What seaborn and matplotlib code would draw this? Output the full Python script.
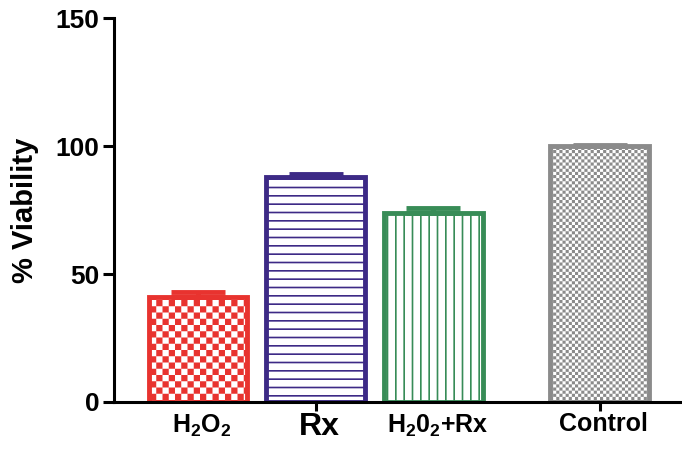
import warnings
import numpy as np
import pandas as pd
import matplotlib
matplotlib.use('Agg')
import matplotlib.pyplot as plt
import matplotlib.hatch as mhatch
import matplotlib.transforms as mtrans
from matplotlib.path import Path
import seaborn as sns

# data
groups = ['H2O2', 'Rx', 'H2O2+Rx', 'Control']
tick_labels = ['H$_2$O$_2$', 'Rx', 'H$_2$0$_2$+Rx', 'Control']
x_pos = [0.0, 1.0, 2.0, 3.41]
viability = [41.1, 87.9, 74.1, 100.0]
sem = [1.8, 1.2, 1.7, 0.4]
edge_colors = ['#e8332f', '#3d2a86', '#388c57', '#8b8b8b']
hatches = ['cc', '--', '||', 'cccc']


# checkerboard hatch ('c' = 8 cells per inch, repeat for finer squares)
class CheckerHatch(mhatch.HatchPatternBase):

    def __init__(self, hatch, density):
        self.n = hatch.count('c') * 8
        self.num_vertices = self.n * self.n // 2 * 5

    def set_vertices_and_codes(self, vertices, codes):
        cell = 1.0 / self.n
        pad = min(plt.rcParams['hatch.linewidth'] / 144, cell * 0.3)
        k = 0
        for i in range(self.n):
            for j in range(self.n):
                if (i + j) % 2:
                    continue
                x0, y0 = j * cell + pad, i * cell + pad
                x1, y1 = (j + 1) * cell - pad, (i + 1) * cell - pad
                vertices[k:k + 5] = [(x0, y0), (x1, y0), (x1, y1), (x0, y1), (x0, y0)]
                codes[k:k + 5] = [Path.MOVETO, Path.LINETO, Path.LINETO,
                                  Path.LINETO, Path.CLOSEPOLY]
                k += 5


mhatch._hatch_types.append(CheckerHatch)
warnings.filterwarnings('ignore', message='.*hatch must consist.*')

sns.set_style('ticks')
plt.rcParams['font.family'] = ['Liberation Sans', 'DejaVu Sans']
plt.rcParams['font.weight'] = 'bold'
plt.rcParams['text.color'] = 'black'
plt.rcParams['axes.labelcolor'] = 'black'
plt.rcParams['xtick.color'] = 'black'
plt.rcParams['ytick.color'] = 'black'
plt.rcParams['mathtext.fontset'] = 'custom'
plt.rcParams['mathtext.rm'] = 'Liberation Sans:bold'
plt.rcParams['mathtext.it'] = 'Liberation Sans:bold'
plt.rcParams['mathtext.bf'] = 'Liberation Sans:bold'
plt.rcParams['mathtext.default'] = 'rm'
plt.rcParams['hatch.linewidth'] = 1.2

df = pd.DataFrame({'x': x_pos, 'viability': viability, 'group': groups})

fig, ax = plt.subplots(figsize=(6.82, 4.49), dpi=100)
fig.subplots_adjust(left=0.1666, right=1.0, bottom=0.1047, top=0.9588)

sns.barplot(data=df, x='x', y='viability', hue='group', palette=edge_colors,
            native_scale=True, fill=False, width=0.835, linewidth=3.5,
            errorbar=None, legend=False, ax=ax)

bars = sorted(ax.patches, key=lambda p: p.get_x())
for bar, col, h in zip(bars, edge_colors, hatches):
    bar.set_facecolor('white')
    bar.set_edgecolor(col)
    bar.set_hatch(h)
    bar.set_linewidth(3.5)

# only the upper half of the SEM is visible
for i in range(len(x_pos)):
    ax.errorbar(x_pos[i], viability[i], yerr=[[0], [sem[i]]], fmt='none',
                ecolor=edge_colors[i], elinewidth=3.5, capsize=19.5,
                capthick=3.5, zorder=5)

ax.set_ylim(0, 150)
ax.set_yticks([0, 50, 100, 150])
ax.set_xlim(-0.714, 4.11)
ax.set_xticks(x_pos, tick_labels)
ax.set_xlabel('')
ax.set_ylabel('% Viability', fontsize=21, fontweight='bold', labelpad=12)

sns.despine(ax=ax)
for side in ['left', 'bottom']:
    ax.spines[side].set_linewidth(2.2)
    ax.spines[side].set_color('black')

ax.tick_params(axis='y', length=8, width=2.2, labelsize=19, pad=2, color='black')
ax.tick_params(axis='x', length=6.5, width=2.2, labelsize=18, pad=1, color='black')

shift = mtrans.ScaledTranslation(4 / 100, 0, fig.dpi_scale_trans)
for i, t in enumerate(ax.xaxis.get_major_ticks()):
    if i in (0, 2):
        t.tick1line.set_visible(False)
    t.label1.set_transform(t.label1.get_transform() + shift)
    if i == 1:
        t.label1.set_fontsize(23)

plt.savefig('out.png', dpi=100)
